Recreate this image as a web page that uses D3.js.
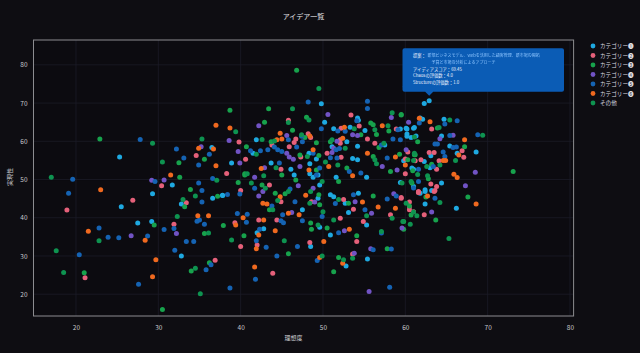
<!DOCTYPE html>
<html><head><meta charset="utf-8">
<script src="https://cdn.jsdelivr.net/npm/d3@7"></script>
<style>
html,body{margin:0;padding:0;background:#0e0d12;}
svg{display:block;font-family:"Noto Sans CJK JP","Noto Sans",sans-serif;}
</style></head>
<body>
<svg id="c" width="640" height="353"></svg>
<script>
const title = "アイデア一覧";
const xLabel = "理想度";
const yLabel = "実現性";
const xTicks = [20,30,40,50,60,70,80];
const yTicks = [20,30,40,50,60,70,80];
const categories = ["カテゴリー❶","カテゴリー❷","カテゴリー❸","カテゴリー❹","カテゴリー❺","カテゴリー❻","その他"];
const colors = ["#1ea9e1","#e5607a","#17a24c","#7153c4","#1563b3","#f0691f","#0e9350"];

const cat1 = [[25.3,55.9],[36.5,58.4],[31.7,48.6],[29.3,46.3],[25.5,42.9],[36.6,45.1],[37.8,45.8],[32.8,43.6],[29.2,39.0],[27.5,38.6],[32.8,30.0],
[49.8,69.8],[50.2,65.0],[54.2,66.1],[54.3,65.5],[51.3,63.3],[53.3,63.7],[55.1,62.8],[60.2,63.2],[61.1,63.6],[60.2,61.3],[57.5,59.0],[54.2,58.7],[52.9,59.9],[51.1,58.6],[41.9,60.4],[41.5,56.9],[48.3,56.9],[49.2,55.4],[53.6,55.5],[54.2,55.2],[38.9,54.3],[43.7,54.3],[46.1,52.7],[48.4,54.1],[49.4,51.2],[55.3,50.6],[60.8,53.0],
[37.8,45.9],[46.5,51.2],[48.4,51.5],[48.8,50.6],[49.6,48.6],[51.6,50.6],[49.4,45.1],[50.9,46.0],[51.3,45.5],[52.7,43.8],[54.3,46.4],[53.1,41.4],[50.9,35.5],[49.6,37.5],[55.3,38.1],[55.4,29.2],[47.5,42.1],[42.8,37.1],[42.0,36.1],[48.5,32.5],[52.8,27.4],[59.4,49.2],
[62.3,69.9],[61.8,66.1],[62.1,65.8],[64.7,65.8],[59.4,63.2],[60.1,63.4],[61.0,63.4],[60.2,61.9],[61.3,61.4],[60.7,61.0],[64.4,61.4],[65.4,58.8],[63.1,56.2],[66.3,56.9],[68.6,57.2],[59.8,54.9],[62.3,54.7],[63.0,53.1],[61.0,52.7],[64.4,49.1],[61.0,48.2],[63.2,47.1],[62.4,47.3],
[61.8,46.4],[62.4,46.9],[62.4,43.6],[66.2,42.5],[62.9,70.6]];

const cat2 = [[34.6,56.3],[38.3,51.6],[18.9,42.0],[26.9,44.6],[30.4,48.4],[33.4,43.9],[31.9,38.3],[36.9,28.9],[21.1,24.3],
[53.4,66.9],[45.8,65.5],[52.2,63.4],[54.4,64.0],[58.9,63.2],[55.4,60.6],[56.3,59.5],[52.1,60.4],[52.1,59.5],[48.2,62.0],[48.5,61.0],[39.8,59.8],[43.8,59.0],[45.9,58.6],[46.5,59.7],[46.7,60.6],[47.3,55.9],[50.5,56.9],[52.2,55.8],[60.0,55.4],[40.6,55.3],[44.9,52.7],[60.3,57.2],
[40.0,47.1],[43.5,48.6],[44.9,44.2],[48.6,44.2],[44.4,39.4],[52.5,44.8],[53.7,42.2],[52.1,39.9],[54.9,39.0],[54.1,33.8],[58.2,40.8],[60.5,42.9],[61.0,41.6],[59.5,45.1],[61.6,46.6],[39.3,38.7],[42.2,39.4],[42.0,32.9],[40.0,32.5],[43.9,25.5],[48.4,33.5],[53.6,30.5],
[63.2,63.2],[62.9,57.1],[63.5,57.1],[66.9,57.5],[61.2,54.9],[61.9,55.2],[64.1,54.9],[67.1,55.8],[63.8,52.7],[60.0,51.5],[63.1,48.8],[63.8,48.2],[61.6,46.7],[63.6,47.1],
[59.5,45.3],[61.6,46.9],[63.5,46.9],[60.5,44.1],[60.5,42.1],[62.3,40.8]];

const cat3 = [[22.9,60.6],[38.7,68.1],[35.6,55.3],[32.5,54.4],[32.6,50.6],[33.9,47.4],[37.2,45.6],[33.2,42.9],[29.5,38.1],[35.6,35.9],[37.9,38.0],[36.2,28.2],[34.0,26.1],[21.0,25.6],[30.5,16.0],
[46.8,78.6],[43.4,68.5],[48.0,66.3],[42.9,65.0],[55.8,64.8],[59.5,67.0],[46.3,62.9],[47.8,61.0],[56.1,64.3],[56.5,61.8],[58.0,62.7],[54.6,61.7],[56.8,58.4],[50.9,59.9],[49.2,59.6],[43.7,59.9],[40.7,58.6],[47.2,56.4],[49.5,56.3],[56.1,56.0],[59.3,56.6],[49.2,52.5],[52.9,53.0],[58.2,52.1],[40.5,51.2],[45.0,51.2],[61.1,56.5],
[40.5,51.5],[39.7,49.2],[42.6,48.6],[43.5,42.1],[44.2,46.4],[45.4,46.3],[46.7,49.9],[51.9,49.5],[49.5,46.0],[49.6,43.4],[48.5,38.6],[48.6,37.0],[53.1,43.8],[50.5,37.3],[54.1,35.3],[57.8,31.9],[59.8,39.0],[59.8,37.0],[60.8,49.1],[56.1,45.7],[40.4,35.3],[45.8,30.6],[51.9,29.6],[51.3,25.9],
[59.5,66.9],[63.9,63.5],[61.5,59.9],[67.2,58.6],[61.2,56.5],[63.2,54.0],[60.9,52.3],[73.1,52.1],[62.8,50.2],[67.6,45.4],[60.3,55.2],
[62.5,45.4],[60.5,43.1],[60.7,40.7],[63.7,39.4]];

const cat4 = [[38.6,60.2],[35.2,58.6],[29.2,49.8],[30.7,49.9],[32.2,35.9],[26.7,35.3],
[50.6,67.0],[58.3,66.2],[60.4,65.0],[42.2,64.1],[54.2,61.5],[53.6,61.7],[51.7,60.0],[45.6,61.5],[39.7,57.3],[45.6,56.9],[45.9,55.9],[46.4,55.3],[51.1,57.1],[51.3,58.2],[39.9,54.3],[42.9,53.1],[47.2,53.4],[57.2,53.4],[59.0,52.5],[41.7,50.6],
[42.2,45.7],[42.7,46.9],[47.0,48.4],[46.2,41.4],[48.8,47.7],[49.0,44.1],[53.9,44.2],[52.6,36.6],[55.9,41.2],[53.8,30.7],[55.8,31.9],[59.6,37.3],[58.6,46.3],[55.6,20.7],
[64.2,60.7],[65.8,61.6],[60.1,57.8],[68.5,51.9],[67.3,48.4],[63.2,41.5]];

const cat5 = [[27.8,60.5],[32.2,58.0],[36.2,56.6],[33.1,55.6],[34.9,53.8],[19.6,50.1],[19.1,46.4],[29.6,49.5],[34.9,49.1],[36.6,50.3],[35.3,47.1],[38.4,46.1],[35.3,44.1],[34.7,39.1],[35.0,39.4],[35.6,38.3],[31.9,37.2],[30.7,36.9],[22.8,37.3],[23.9,34.9],[25.2,34.8],[28.7,35.2],[33.4,33.8],[34.3,33.8],[20.4,30.3],[32.0,31.5],[36.4,27.7],[35.8,26.4],[27.6,22.6],[38.7,21.6],
[48.2,70.3],[55.4,70.5],[55.4,68.6],[54.1,65.4],[61.7,64.8],[49.8,63.3],[51.8,62.7],[52.7,62.6],[59.1,63.0],[58.5,60.6],[59.4,60.4],[57.1,59.0],[51.6,57.8],[52.0,58.1],[47.4,61.3],[47.5,59.9],[45.8,60.4],[44.1,58.5],[43.3,57.8],[41.2,57.5],[42.4,57.5],[44.5,57.8],[45.0,57.3],[46.8,58.5],[48.8,56.9],[50.9,55.7],[51.7,55.6],[57.8,55.6],[44.7,54.3],[49.6,53.0],[53.2,52.1],[54.6,51.7],
[39.9,46.2],[41.7,47.7],[43.8,43.1],[46.0,47.5],[46.6,44.2],[47.5,39.2],[45.1,40.8],[44.9,39.2],[45.2,38.7],[49.2,51.2],[49.9,40.3],[51.5,43.7],[53.7,46.0],[51.9,36.1],[55.1,42.1],[56.1,31.6],[57.1,36.0],[58.3,31.8],[58.9,45.7],[57.8,44.9],[39.6,41.1],[40.8,40.9],[40.7,38.8],[42.3,37.0],[41.9,34.0],[43.1,32.3],[46.9,32.5],[44.4,30.0],[49.3,28.8],[41.8,23.9],[58.1,21.8],
[66.3,65.4],[64.8,64.5],[65.4,61.5],[68.8,61.7],[63.6,59.3],[63.9,59.3],[65.8,58.4],[66.2,58.5],[64.6,57.2],[64.8,56.0],[63.4,53.4],[61.6,52.7],[61.6,49.5],[61.0,47.8],[63.6,45.1],[60.0,74.3]];

const cat6 = [[37.0,64.2],[38.7,63.5],[34.9,58.2],[36.7,58.0],[37.0,53.6],[23.0,47.3],[31.5,51.2],[34.8,40.5],[36.1,40.5],[21.5,36.5],[28.4,34.1],[29.7,29.0],[29.3,24.6],
[61.7,66.0],[44.8,62.1],[48.4,61.4],[52.6,63.7],[57.2,64.1],[52.4,60.8],[48.8,57.8],[44.4,60.4],[45.0,60.6],[55.4,56.9],[58.8,55.9],[42.5,52.9],[48.3,52.5],[50.7,53.4],[53.6,51.0],[60.0,53.8],
[42.7,43.8],[43.2,43.6],[44.8,45.5],[47.9,45.9],[47.1,40.8],[45.8,41.2],[54.8,44.1],[53.2,37.0],[56.7,42.8],[58.8,42.5],[39.4,38.1],[40.3,40.0],[42.8,39.4],[44.2,36.6],[42.2,35.5],[41.9,31.9],[41.7,27.1],[50.1,33.8],[49.6,29.6],[52.4,28.1],
[63.0,65.1],[67.2,60.4],[66.5,56.4],[64.6,55.0],[64.9,55.0],[65.9,51.4],[66.3,50.5],[62.7,45.7],[68.6,43.6]];

const other = [[29.3,59.5],[35.3,60.6],[30.5,54.6],[17.0,50.6],[37.1,49.8],[34.5,45.7],[33.0,44.8],[32.3,40.3],[22.8,34.0],[36.1,36.0],[17.6,31.4],[34.5,26.8],[18.5,25.7],[35.1,20.1],
[49.5,73.8],[46.3,68.5],[48.3,65.6],[45.8,64.9],[58.4,67.5],[39.4,62.5],[47.4,61.7],[53.8,63.3],[56.3,63.0],[57.9,64.1],[61.1,61.1],[57.4,59.5],[51.1,60.4],[52.7,58.2],[42.6,60.5],[44.1,60.1],[41.9,56.6],[48.1,56.0],[50.3,54.6],[56.3,55.2],[44.3,53.1],[51.8,53.8],[56.5,54.1],[61.5,51.3],[42.8,51.0],[61.0,55.0],
[40.8,51.5],[41.3,49.1],[43.0,47.7],[43.9,42.1],[44.5,44.5],[45.8,46.9],[49.9,49.5],[48.5,46.9],[48.4,43.8],[50.0,41.6],[49.4,38.1],[51.9,44.8],[51.3,39.4],[55.3,40.5],[57.1,36.4],[58.4,39.9],[60.6,38.3],[61.4,40.5],[60.1,43.8],[38.9,34.2],[45.3,34.0],[49.9,30.0],[52.5,29.0],[53.6,29.4],
[65.4,65.6],[64.1,63.6],[69.4,61.6],[61.1,56.9],[66.1,55.0],[64.2,53.8],[62.6,53.4],[62.7,51.0],[60.7,49.5],[59.6,49.1],
[64.2,44.0],[61.0,41.5],[59.7,39.0],[65.3,34.6]];

const seriesData = [cat1,cat2,cat3,cat4,cat5,cat6,other];

const tipLines = ["アイディアスコア：69.45","Chaosの評価数：4.0","Structureの評価数：1.0"];
const tipLabel = "提案：";
const tipProposal = ["新規ビジネスモデル、Webを活用した顧客管理、新市場の開拓","予算と市場の分析によるアプローチ"];
const tipTarget = [62.9,70.6];

const svg = d3.select("#c");
const W = 640, H = 353;
const m = {l:33.5, r:573.6, t:40, b:316};
const x = d3.scaleLinear().domain([14.84, 80.44]).range([m.l, m.r]);
const y = d3.scaleLinear().domain([14.3, 86.5]).range([m.b, m.t]);

svg.append("rect").attr("width",W).attr("height",H).attr("fill","#0e0d12");
svg.append("rect").attr("x",m.l).attr("y",m.t).attr("width",m.r-m.l).attr("height",m.b-m.t).attr("fill","#0c0b10");

// grid
const g = svg.append("g");
g.selectAll(".gx").data(xTicks).join("line").attr("x1",d=>x(d)).attr("x2",d=>x(d)).attr("y1",m.t).attr("y2",m.b).attr("stroke","#1c1c27").attr("stroke-width",0.8);
g.selectAll(".gy").data(yTicks).join("line").attr("y1",d=>y(d)).attr("y2",d=>y(d)).attr("x1",m.l).attr("x2",m.r).attr("stroke","#1c1c27").attr("stroke-width",0.8);

// axes
const xa = svg.append("g").attr("transform",`translate(0,${m.b})`).call(d3.axisBottom(x).tickValues(xTicks).tickSize(0).tickPadding(9));
const ya = svg.append("g").attr("transform",`translate(${m.l},0)`).call(d3.axisLeft(y).tickValues(yTicks).tickSize(0).tickPadding(6));
[xa,ya].forEach(a=>{a.select(".domain").remove(); a.selectAll("text").attr("fill","#c8c8cc").attr("font-size",6.5).attr("font-family","'Noto Sans CJK JP',sans-serif");});

// points
seriesData.forEach((arr,i)=>{
  svg.append("g").selectAll("circle").data(arr).join("circle")
    .attr("cx",d=>x(d[0])).attr("cy",d=>y(d[1])).attr("r",2.5).attr("fill",colors[i]);
});

// border
svg.append("rect").attr("x",m.l).attr("y",m.t).attr("width",m.r-m.l).attr("height",m.b-m.t).attr("fill","none").attr("stroke","#8c8c90").attr("stroke-width",1);

// titles
svg.append("text").attr("x",(m.l+m.r)/2).attr("y",19).attr("text-anchor","middle").attr("fill","#e6e6ea").attr("font-size",7).text(title);
svg.append("text").attr("x",(m.l+m.r)/2 - 10).attr("y",340).attr("text-anchor","middle").attr("fill","#d0d0d4").attr("font-size",6).text(xLabel);
svg.append("text").attr("transform",`translate(12,${(m.t+m.b)/2 - 1}) rotate(-90)`).attr("text-anchor","middle").attr("fill","#d0d0d4").attr("font-size",6).text(yLabel);

// legend
const lg = svg.append("g");
categories.forEach((c,i)=>{
  const yy = 46 + i*9.5;
  lg.append("circle").attr("cx",593).attr("cy",yy).attr("r",2.4).attr("fill",colors[i]);
  lg.append("text").attr("x",600).attr("y",yy+2).attr("fill","#dcdce0").attr("font-size",5.6).text(c);
});

// tooltip
const tx = x(tipTarget[0]), ty = y(tipTarget[1]);
const bx = 402.5, by = 48.3, bw = 161.5, bh = 43.4;
const defs = svg.append("defs");
defs.append("filter").attr("id","bl").append("feGaussianBlur").attr("stdDeviation",0.35);
svg.append("path").attr("d",`M${bx+2},${by} H${bx+bw-2} Q${bx+bw},${by} ${bx+bw},${by+2} V${by+bh-2} Q${bx+bw},${by+bh} ${bx+bw-2},${by+bh} H${tx+4} L${tx},${ty-5} L${tx-4},${by+bh} H${bx+2} Q${bx},${by+bh} ${bx},${by+bh-2} V${by+2} Q${bx},${by} ${bx+2},${by} Z`).attr("fill","#0b5cb5");
const tt = svg.append("g").attr("font-size",4.3).attr("fill","#eef3ff");
tt.append("text").attr("x",bx+10.5).attr("y",by+9).text(tipLabel);
tt.append("text").attr("x",bx+25).attr("y",by+9).attr("fill","#8cc4ff").attr("font-size",4).attr("filter","url(#bl)").text(tipProposal[0]);
tt.append("text").attr("x",bx+29).attr("y",by+16).attr("fill","#8cc4ff").attr("font-size",4).attr("filter","url(#bl)").text(tipProposal[1]);
tipLines.forEach((t,i)=>{
  tt.append("text").attr("x",bx+10.5).attr("y",by+22.5+i*6.6).text(t);
});
</script>
</body></html>
